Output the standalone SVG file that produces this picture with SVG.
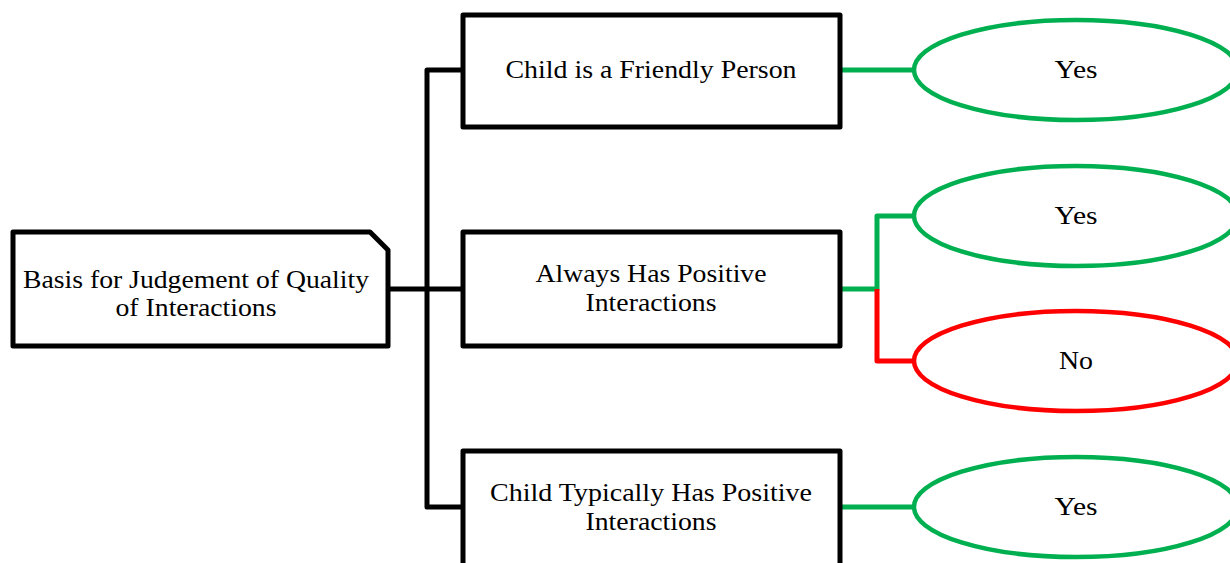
<svg xmlns="http://www.w3.org/2000/svg" width="1230" height="563" viewBox="0 0 1230 563">
<style>
.box{fill:#fff;stroke:#000;stroke-width:5;stroke-linejoin:round}
.ell{fill:#fff;stroke-width:4.5}
.g{stroke:#00B050}
.r{stroke:#FF0000}
.k{stroke:#000}
.ln{fill:none;stroke-width:5;stroke-linejoin:round}
text{font-family:"Liberation Serif","Times New Roman",serif;font-size:25.5px;fill:#000;text-anchor:middle}
</style>
<rect width="1230" height="563" fill="#fff"/>
<g id="connectors">
<path class="ln k" d="M388,289 H463 M463,70 H427 V507 H463"/>
<path class="ln g" d="M840,70 H914 M840,507 H914 M840,289 H877 V216 H914"/>
<path class="ln r" d="M877,289 V361 H914"/>
</g>
<g id="root">
<path class="box" d="M13,232 H370 L388,250 V346 H13 Z"/>
<text x="196" y="288" textLength="346" lengthAdjust="spacingAndGlyphs">Basis for Judgement of Quality</text>
<text x="196" y="316" textLength="161" lengthAdjust="spacingAndGlyphs">of Interactions</text>
</g>
<g id="n1">
<rect class="box" x="463" y="15" width="377" height="112"/>
<text x="651" y="78" textLength="291" lengthAdjust="spacingAndGlyphs">Child is a Friendly Person</text>
</g>
<g id="n2">
<rect class="box" x="463" y="232" width="377" height="114"/>
<text x="651" y="282" textLength="231" lengthAdjust="spacingAndGlyphs">Always Has Positive</text>
<text x="651" y="311" textLength="131" lengthAdjust="spacingAndGlyphs">Interactions</text>
</g>
<g id="n3">
<rect class="box" x="463" y="451" width="377" height="130"/>
<text x="651" y="501" textLength="322" lengthAdjust="spacingAndGlyphs">Child Typically Has Positive</text>
<text x="651" y="530" textLength="131" lengthAdjust="spacingAndGlyphs">Interactions</text>
</g>
<g id="e1">
<ellipse class="ell g" cx="1076" cy="70" rx="162" ry="50"/>
<text x="1076" y="78" textLength="43" lengthAdjust="spacingAndGlyphs">Yes</text>
</g>
<g id="e2">
<ellipse class="ell g" cx="1076" cy="216" rx="162" ry="50"/>
<text x="1076" y="224" textLength="43" lengthAdjust="spacingAndGlyphs">Yes</text>
</g>
<g id="e3">
<ellipse class="ell r" cx="1076" cy="361" rx="162" ry="50"/>
<text x="1076" y="369" textLength="34" lengthAdjust="spacingAndGlyphs">No</text>
</g>
<g id="e4">
<ellipse class="ell g" cx="1076" cy="507" rx="162" ry="50"/>
<text x="1076" y="515" textLength="43" lengthAdjust="spacingAndGlyphs">Yes</text>
</g>
</svg>
